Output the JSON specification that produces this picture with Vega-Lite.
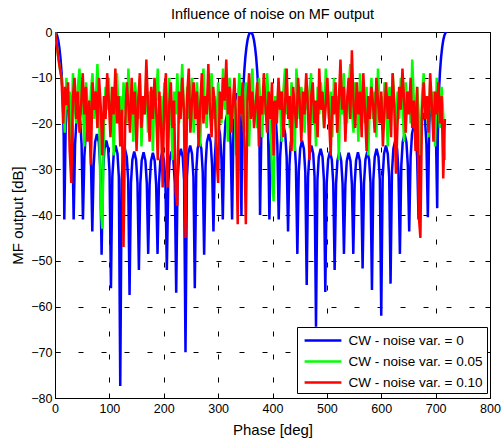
{
"$schema": "https://vega.github.io/schema/vega-lite/v6.json",
"width": 435, "height": 366,
"autosize": {"type": "none"},
"padding": {"left": 55, "top": 32, "right": 11, "bottom": 47},
"background": "white",
"config": {"view": {"stroke": "black", "strokeWidth": 1}, "font": "Liberation Sans"},
"title": {"text": "Influence of noise on MF output", "font": "Liberation Sans", "fontSize": 14.5, "fontWeight": "normal", "color": "black", "anchor": "middle", "offset": 4},
"datasets": {
"blue": [
{"p":0,"v":0},{"p":2,"v":-0.2},{"p":4,"v":-0.8},{"p":6,"v":-1.8},{"p":8,"v":-3.4},{"p":10,"v":-5.6},{"p":12,"v":-8.7},{"p":14,"v":-13.4},{"p":15,"v":-17.1},{"p":16,"v":-23},{"p":17.1,"v":-41},
{"p":19.7,"v":-20.3},{"p":22.3,"v":-15.2},{"p":25.7,"v":-13.4},{"p":29.1,"v":-15.2},{"p":31.7,"v":-20.3},{"p":34.3,"v":-41},
{"p":36.9,"v":-24.6},{"p":39.4,"v":-19.5},{"p":42.9,"v":-17.7},{"p":46.3,"v":-19.5},{"p":48.9,"v":-24.6},{"p":51.4,"v":-41},
{"p":54.0,"v":-27.3},{"p":56.6,"v":-22.2},{"p":60.0,"v":-20.4},{"p":63.4,"v":-22.2},{"p":66.0,"v":-27.3},{"p":68.6,"v":-43.6},
{"p":71.1,"v":-29.2},{"p":73.7,"v":-24.1},{"p":77.1,"v":-22.3},{"p":80.6,"v":-24.1},{"p":83.1,"v":-29.2},{"p":85.7,"v":-48.7},
{"p":88.3,"v":-30.6},{"p":90.9,"v":-25.5},{"p":94.3,"v":-23.7},{"p":97.7,"v":-25.5},{"p":100.3,"v":-30.6},{"p":102.9,"v":-56},
{"p":105.4,"v":-31.7},{"p":108.0,"v":-26.6},{"p":111.4,"v":-24.8},{"p":114.9,"v":-26.6},{"p":117.4,"v":-31.7},{"p":120,"v":-77.4},
{"p":122.6,"v":-32.4},{"p":125.1,"v":-27.3},{"p":128.6,"v":-25.5},{"p":132.0,"v":-27.3},{"p":134.6,"v":-32.4},{"p":137.1,"v":-57.5},
{"p":139.7,"v":-33.0},{"p":142.3,"v":-27.9},{"p":145.7,"v":-26.1},{"p":149.1,"v":-27.9},{"p":151.7,"v":-33.0},{"p":154.3,"v":-52},
{"p":156.9,"v":-33.2},{"p":159.4,"v":-28.1},{"p":162.9,"v":-26.3},{"p":166.3,"v":-28.1},{"p":168.9,"v":-33.2},{"p":171.4,"v":-48.5},
{"p":174.0,"v":-33.3},{"p":176.6,"v":-28.2},{"p":180.0,"v":-26.4},{"p":183.4,"v":-28.2},{"p":186.0,"v":-33.3},{"p":188.6,"v":-48.5},
{"p":191.1,"v":-33.2},{"p":193.7,"v":-28.1},{"p":197.1,"v":-26.3},{"p":200.6,"v":-28.1},{"p":203.1,"v":-33.2},{"p":205.7,"v":-52},
{"p":208.3,"v":-33.0},{"p":210.9,"v":-27.9},{"p":214.3,"v":-26.1},{"p":217.7,"v":-27.9},{"p":220.3,"v":-33.0},{"p":222.9,"v":-57},
{"p":225.4,"v":-32.4},{"p":228.0,"v":-27.3},{"p":231.4,"v":-25.5},{"p":234.9,"v":-27.3},{"p":237.4,"v":-32.4},{"p":240,"v":-70},
{"p":242.6,"v":-31.7},{"p":245.1,"v":-26.6},{"p":248.6,"v":-24.8},{"p":252.0,"v":-26.6},{"p":254.6,"v":-31.7},{"p":257.1,"v":-56},
{"p":259.7,"v":-30.6},{"p":262.3,"v":-25.5},{"p":265.7,"v":-23.7},{"p":269.1,"v":-25.5},{"p":271.7,"v":-30.6},{"p":274.3,"v":-48.7},
{"p":276.9,"v":-29.2},{"p":279.4,"v":-24.1},{"p":282.9,"v":-22.3},{"p":286.3,"v":-24.1},{"p":288.9,"v":-29.2},{"p":291.4,"v":-43.6},
{"p":294.0,"v":-27.3},{"p":296.6,"v":-22.2},{"p":300.0,"v":-20.4},{"p":303.4,"v":-22.2},{"p":306.0,"v":-27.3},{"p":308.6,"v":-41},
{"p":311.1,"v":-24.6},{"p":313.7,"v":-19.5},{"p":317.1,"v":-17.7},{"p":320.6,"v":-19.5},{"p":323.1,"v":-24.6},{"p":325.7,"v":-41},
{"p":328.3,"v":-20.3},{"p":330.9,"v":-15.2},{"p":334.3,"v":-13.4},{"p":337.7,"v":-15.2},{"p":340.3,"v":-20.3},{"p":342.9,"v":-40},
{"p":344,"v":-23},{"p":345,"v":-17.1},{"p":346,"v":-13.4},{"p":348,"v":-8.7},{"p":350,"v":-5.6},{"p":352,"v":-3.4},{"p":354,"v":-1.8},{"p":356,"v":-0.8},{"p":358,"v":-0.2},{"p":360,"v":0},
{"p":362,"v":-0.2},{"p":364,"v":-0.8},{"p":366,"v":-1.8},{"p":368,"v":-3.4},{"p":370,"v":-5.6},{"p":372,"v":-8.7},{"p":374,"v":-13.4},{"p":375,"v":-17.1},{"p":376,"v":-23},{"p":377.1,"v":-40},
{"p":379.7,"v":-20.3},{"p":382.3,"v":-15.2},{"p":385.7,"v":-13.4},{"p":389.1,"v":-15.2},{"p":391.7,"v":-20.3},{"p":394.3,"v":-41},
{"p":396.9,"v":-24.6},{"p":399.4,"v":-19.5},{"p":402.9,"v":-17.7},{"p":406.3,"v":-19.5},{"p":408.9,"v":-24.6},{"p":411.4,"v":-41},
{"p":414.0,"v":-27.3},{"p":416.6,"v":-22.2},{"p":420.0,"v":-20.4},{"p":423.4,"v":-22.2},{"p":426.0,"v":-27.3},{"p":428.6,"v":-43.6},
{"p":431.1,"v":-29.2},{"p":433.7,"v":-24.1},{"p":437.1,"v":-22.3},{"p":440.6,"v":-24.1},{"p":443.1,"v":-29.2},{"p":445.7,"v":-48.5},
{"p":448.3,"v":-30.6},{"p":450.9,"v":-25.5},{"p":454.3,"v":-23.7},{"p":457.7,"v":-25.5},{"p":460.3,"v":-30.6},{"p":462.9,"v":-55.3},
{"p":465.4,"v":-31.7},{"p":468.0,"v":-26.6},{"p":471.4,"v":-24.8},{"p":474.9,"v":-26.6},{"p":477.4,"v":-31.7},{"p":480,"v":-64.4},
{"p":482.6,"v":-32.4},{"p":485.1,"v":-27.3},{"p":488.6,"v":-25.5},{"p":492.0,"v":-27.3},{"p":494.6,"v":-32.4},{"p":497.1,"v":-56.8},
{"p":499.7,"v":-33.0},{"p":502.3,"v":-27.9},{"p":505.7,"v":-26.1},{"p":509.1,"v":-27.9},{"p":511.7,"v":-33.0},{"p":514.3,"v":-52},
{"p":516.9,"v":-33.2},{"p":519.4,"v":-28.1},{"p":522.9,"v":-26.3},{"p":526.3,"v":-28.1},{"p":528.9,"v":-33.2},{"p":531.4,"v":-48.5},
{"p":534.0,"v":-33.3},{"p":536.6,"v":-28.2},{"p":540.0,"v":-26.4},{"p":543.4,"v":-28.2},{"p":546.0,"v":-33.3},{"p":548.6,"v":-48.5},
{"p":551.1,"v":-33.2},{"p":553.7,"v":-28.1},{"p":557.1,"v":-26.3},{"p":560.6,"v":-28.1},{"p":563.1,"v":-33.2},{"p":565.7,"v":-51.7},
{"p":568.3,"v":-33.0},{"p":570.9,"v":-27.9},{"p":574.3,"v":-26.1},{"p":577.7,"v":-27.9},{"p":580.3,"v":-33.0},{"p":582.9,"v":-56.4},
{"p":585.4,"v":-32.4},{"p":588.0,"v":-27.3},{"p":591.4,"v":-25.5},{"p":594.9,"v":-27.3},{"p":597.4,"v":-32.4},{"p":600,"v":-62},
{"p":602.6,"v":-31.7},{"p":605.1,"v":-26.6},{"p":608.6,"v":-24.8},{"p":612.0,"v":-26.6},{"p":614.6,"v":-31.7},{"p":617.1,"v":-55},
{"p":619.7,"v":-30.6},{"p":622.3,"v":-25.5},{"p":625.7,"v":-23.7},{"p":629.1,"v":-25.5},{"p":631.7,"v":-30.6},{"p":634.3,"v":-48.5},
{"p":636.9,"v":-29.2},{"p":639.4,"v":-24.1},{"p":642.9,"v":-22.3},{"p":646.3,"v":-24.1},{"p":648.9,"v":-29.2},{"p":651.4,"v":-43.6},
{"p":654.0,"v":-27.3},{"p":656.6,"v":-22.2},{"p":660.0,"v":-20.4},{"p":663.4,"v":-22.2},{"p":666.0,"v":-27.3},{"p":668.6,"v":-41},
{"p":671.1,"v":-24.6},{"p":673.7,"v":-19.5},{"p":677.1,"v":-17.7},{"p":680.6,"v":-19.5},{"p":683.1,"v":-24.6},{"p":685.7,"v":-40.5},
{"p":688.3,"v":-20.3},{"p":690.9,"v":-15.2},{"p":694.3,"v":-13.4},{"p":697.7,"v":-15.2},{"p":700.3,"v":-20.3},{"p":702.9,"v":-38.5},
{"p":704,"v":-23},{"p":705,"v":-17.1},{"p":706,"v":-13.4},{"p":708,"v":-8.7},{"p":710,"v":-5.6},{"p":712,"v":-3.4},{"p":714,"v":-1.8},{"p":716,"v":-0.8},{"p":718,"v":-0.2},{"p":720,"v":0}
],
"green": [
{"p":0,"v":0},{"p":3,"v":-2.5},{"p":6,"v":-5.5},{"p":9,"v":-8},{"p":12,"v":-10},
{"p":15,"v":-14},{"p":18,"v":-22},{"p":21,"v":-10},{"p":24,"v":-17},{"p":27,"v":-13},{"p":30,"v":-24},{"p":33,"v":-9},{"p":36,"v":-16},{"p":39,"v":-20},{"p":42,"v":-12},
{"p":45,"v":-8},{"p":48,"v":-18},{"p":51,"v":-14},{"p":54,"v":-25},{"p":57,"v":-11},{"p":60,"v":-16},{"p":63,"v":-21},{"p":66,"v":-13},{"p":69,"v":-9},{"p":72,"v":-19},
{"p":75,"v":-15},{"p":78,"v":-7},{"p":81,"v":-17},{"p":84,"v":-38},{"p":87,"v":-43},{"p":90,"v":-20},{"p":93,"v":-12},{"p":96,"v":-17},{"p":99,"v":-10},{"p":102,"v":-22},
{"p":105,"v":-15},{"p":108,"v":-27},{"p":111,"v":-13},{"p":114,"v":-9},{"p":117,"v":-18},{"p":120,"v":-14},{"p":123,"v":-23},{"p":126,"v":-11},{"p":129,"v":-16},{"p":132,"v":-20},
{"p":135,"v":-8},{"p":138,"v":-17},{"p":141,"v":-13},{"p":144,"v":-24},{"p":147,"v":-11},{"p":150,"v":-15},{"p":153,"v":-19},{"p":156,"v":-10},{"p":159,"v":-25},{"p":162,"v":-14},
{"p":165,"v":-18},{"p":168,"v":-9},{"p":171,"v":-22},{"p":174,"v":-13},{"p":177,"v":-17},{"p":180,"v":-26},{"p":183,"v":-12},{"p":186,"v":-15},{"p":189,"v":-8},{"p":192,"v":-19},
{"p":195,"v":-14},{"p":198,"v":-23},{"p":201,"v":-11},{"p":204,"v":-17},{"p":207,"v":-21},{"p":210,"v":-10},{"p":213,"v":-16},{"p":216,"v":-28},{"p":219,"v":-13},{"p":222,"v":-18},
{"p":225,"v":-9},{"p":228,"v":-20},{"p":231,"v":-15},{"p":234,"v":-7},{"p":237,"v":-17},{"p":240,"v":-24},{"p":243,"v":-12},{"p":246,"v":-19},{"p":249,"v":-14},{"p":252,"v":-10},
{"p":255,"v":-22},{"p":258,"v":-16},{"p":261,"v":-11},{"p":264,"v":-18},{"p":267,"v":-25},{"p":270,"v":-13},{"p":273,"v":-8},{"p":276,"v":-17},{"p":279,"v":-21},{"p":282,"v":-12},
{"p":285,"v":-15},{"p":288,"v":-9},{"p":291,"v":-19},{"p":294,"v":-14},{"p":297,"v":-23},{"p":300,"v":-11},{"p":303,"v":-16},{"p":306,"v":-20},{"p":309,"v":-8},{"p":312,"v":-17},
{"p":315,"v":-13},{"p":318,"v":-24},{"p":321,"v":-10},{"p":324,"v":-15},{"p":327,"v":-19},{"p":330,"v":-12},{"p":333,"v":-27},{"p":336,"v":-16},{"p":339,"v":-9},{"p":342,"v":-18},
{"p":345,"v":-14},{"p":348,"v":-22},{"p":351,"v":-11},{"p":354,"v":-17},{"p":357,"v":-25},{"p":360,"v":-13},{"p":363,"v":-8},{"p":366,"v":-19},{"p":369,"v":-15},{"p":372,"v":-21},
{"p":375,"v":-10},{"p":378,"v":-16},{"p":381,"v":-23},{"p":384,"v":-12},{"p":387,"v":-18},{"p":390,"v":-9},{"p":393,"v":-15},{"p":396,"v":-20},{"p":399,"v":-30},{"p":402,"v":-37},
{"p":405,"v":-14},{"p":408,"v":-19},{"p":411,"v":-11},{"p":414,"v":-16},{"p":417,"v":-24},{"p":420,"v":-13},{"p":423,"v":-8},{"p":426,"v":-18},{"p":429,"v":-15},{"p":432,"v":-21},
{"p":435,"v":-11},{"p":438,"v":-17},{"p":441,"v":-26},{"p":444,"v":-8},{"p":447,"v":-14},{"p":450,"v":-19},{"p":453,"v":-12},{"p":456,"v":-16},{"p":459,"v":-22},{"p":462,"v":-10},
{"p":465,"v":-17},{"p":468,"v":-13},{"p":471,"v":-9},{"p":474,"v":-20},{"p":477,"v":-15},{"p":480,"v":-25},{"p":483,"v":-12},{"p":486,"v":-18},{"p":489,"v":-11},{"p":492,"v":-16},
{"p":495,"v":-21},{"p":498,"v":-8},{"p":501,"v":-15},{"p":504,"v":-19},{"p":507,"v":-13},{"p":510,"v":-23},{"p":513,"v":-10},{"p":516,"v":-17},{"p":519,"v":-14},{"p":522,"v":-28},
{"p":525,"v":-12},{"p":528,"v":-18},{"p":531,"v":-9},{"p":534,"v":-16},{"p":537,"v":-20},{"p":540,"v":-13},{"p":543,"v":-7},{"p":546,"v":-17},{"p":549,"v":-22},{"p":552,"v":-11},
{"p":555,"v":-15},{"p":558,"v":-24},{"p":561,"v":-9},{"p":564,"v":-18},{"p":567,"v":-14},{"p":570,"v":-20},{"p":573,"v":-12},{"p":576,"v":-27},{"p":579,"v":-16},{"p":582,"v":-10},
{"p":585,"v":-19},{"p":588,"v":-13},{"p":591,"v":-23},{"p":594,"v":-8},{"p":597,"v":-17},{"p":600,"v":-14},{"p":603,"v":-21},{"p":606,"v":-11},{"p":609,"v":-16},{"p":612,"v":-25},
{"p":615,"v":-12},{"p":618,"v":-18},{"p":621,"v":-9},{"p":624,"v":-15},{"p":627,"v":-22},{"p":630,"v":-13},{"p":633,"v":-19},{"p":636,"v":-10},{"p":639,"v":-16},{"p":642,"v":-24},
{"p":645,"v":-11},{"p":648,"v":-17},{"p":651,"v":-13},{"p":654,"v":-20},{"p":657,"v":-6},{"p":660,"v":-15},{"p":663,"v":-21},{"p":666,"v":-12},{"p":669,"v":-18},{"p":672,"v":-27},
{"p":675,"v":-14},{"p":678,"v":-9},{"p":681,"v":-19},{"p":684,"v":-15},{"p":687,"v":-23},{"p":690,"v":-11},{"p":693,"v":-17},{"p":696,"v":-13},{"p":699,"v":-25},{"p":702,"v":-10},
{"p":705,"v":-16},{"p":708,"v":-21},{"p":711,"v":-12},{"p":714,"v":-18},{"p":717,"v":-28}
],
"red": [
{"p":0,"v":0},{"p":3,"v":-2.5},{"p":6,"v":-5.5},{"p":9,"v":-8},{"p":12,"v":-10},
{"p":15,"v":-20},{"p":18,"v":-12},{"p":21,"v":-16},{"p":24,"v":-11},{"p":27,"v":-26},{"p":30,"v":-33},{"p":33,"v":-14},{"p":36,"v":-10},{"p":39,"v":-19},{"p":42,"v":-13},
{"p":45,"v":-22},{"p":48,"v":-16},{"p":51,"v":-9},{"p":54,"v":-18},{"p":57,"v":-12},{"p":60,"v":-24},{"p":63,"v":-15},{"p":66,"v":-29},{"p":69,"v":-11},{"p":72,"v":-17},
{"p":75,"v":-13},{"p":78,"v":-21},{"p":81,"v":-10},{"p":84,"v":-16},{"p":87,"v":-27},{"p":90,"v":-14},{"p":93,"v":-19},{"p":96,"v":-9},{"p":99,"v":-15},{"p":102,"v":-23},
{"p":105,"v":-12},{"p":108,"v":-18},{"p":111,"v":-8},{"p":114,"v":-20},{"p":117,"v":-14},{"p":120,"v":-25},{"p":123,"v":-17},{"p":126,"v":-47},{"p":129,"v":-20},{"p":132,"v":-11},
{"p":135,"v":-16},{"p":138,"v":-22},{"p":141,"v":-10},{"p":144,"v":-18},{"p":147,"v":-13},{"p":150,"v":-26},{"p":153,"v":-15},{"p":156,"v":-9},{"p":159,"v":-21},{"p":162,"v":-14},
{"p":165,"v":-18},{"p":168,"v":-6},{"p":171,"v":-16},{"p":174,"v":-24},{"p":177,"v":-12},{"p":180,"v":-19},{"p":183,"v":-10},{"p":186,"v":-17},{"p":189,"v":-28},{"p":192,"v":-13},
{"p":195,"v":-20},{"p":198,"v":-34},{"p":201,"v":-14},{"p":204,"v":-9},{"p":207,"v":-34},{"p":210,"v":-16},{"p":213,"v":-11},{"p":216,"v":-21},{"p":219,"v":-15},{"p":222,"v":-35},
{"p":225,"v":-38},{"p":228,"v":-13},{"p":231,"v":-19},{"p":234,"v":-10},{"p":237,"v":-17},{"p":240,"v":-45},{"p":243,"v":-14},{"p":246,"v":-8},{"p":249,"v":-22},{"p":252,"v":-15},
{"p":255,"v":-11},{"p":258,"v":-19},{"p":261,"v":-13},{"p":264,"v":-25},{"p":267,"v":-16},{"p":270,"v":-9},{"p":273,"v":-20},{"p":276,"v":-14},{"p":279,"v":-18},{"p":282,"v":-7},
{"p":285,"v":-17},{"p":288,"v":-23},{"p":291,"v":-12},{"p":294,"v":-16},{"p":297,"v":-27},{"p":300,"v":-33},{"p":303,"v":-13},{"p":306,"v":-19},{"p":309,"v":-10},{"p":312,"v":-15},
{"p":315,"v":-6},{"p":318,"v":-18},{"p":321,"v":-12},{"p":324,"v":-22},{"p":327,"v":-16},{"p":330,"v":-10},{"p":333,"v":-20},{"p":336,"v":-42},{"p":339,"v":-14},{"p":342,"v":-18},
{"p":345,"v":-11},{"p":348,"v":-24},{"p":351,"v":-42},{"p":354,"v":-15},{"p":357,"v":-9},{"p":360,"v":-19},{"p":363,"v":-13},{"p":366,"v":-21},{"p":369,"v":-16},{"p":372,"v":-11},
{"p":375,"v":-25},{"p":378,"v":-14},{"p":381,"v":-18},{"p":384,"v":-9},{"p":387,"v":-16},{"p":390,"v":-22},{"p":393,"v":-13},{"p":396,"v":-19},{"p":399,"v":-11},{"p":402,"v":-27},
{"p":405,"v":-15},{"p":408,"v":-20},{"p":411,"v":-10},{"p":414,"v":-17},{"p":417,"v":-13},{"p":420,"v":-23},{"p":423,"v":-16},{"p":426,"v":-8},{"p":429,"v":-19},{"p":432,"v":-14},
{"p":435,"v":-26},{"p":438,"v":-12},{"p":441,"v":-17},{"p":444,"v":-21},{"p":447,"v":-10},{"p":450,"v":-15},{"p":453,"v":-24},{"p":456,"v":-13},{"p":459,"v":-18},{"p":462,"v":-9},
{"p":465,"v":-16},{"p":468,"v":-28},{"p":471,"v":-14},{"p":474,"v":-11},{"p":477,"v":-20},{"p":480,"v":-15},{"p":483,"v":-23},{"p":486,"v":-8},{"p":489,"v":-17},{"p":492,"v":-13},
{"p":495,"v":-21},{"p":498,"v":-16},{"p":501,"v":-10},{"p":504,"v":-19},{"p":507,"v":-27},{"p":510,"v":-14},{"p":513,"v":-18},{"p":516,"v":-11},{"p":519,"v":-22},{"p":522,"v":-15},
{"p":525,"v":-6},{"p":528,"v":-17},{"p":531,"v":-12},{"p":534,"v":-24},{"p":537,"v":-15},{"p":540,"v":-10},{"p":543,"v":-19},{"p":546,"v":-4},{"p":549,"v":-16},{"p":552,"v":-21},
{"p":555,"v":-11},{"p":558,"v":-18},{"p":561,"v":-13},{"p":564,"v":-23},{"p":567,"v":-9},{"p":570,"v":-17},{"p":573,"v":-26},{"p":576,"v":-14},{"p":579,"v":-19},{"p":582,"v":-12},
{"p":585,"v":-16},{"p":588,"v":-22},{"p":591,"v":-10},{"p":594,"v":-15},{"p":597,"v":-20},{"p":600,"v":-13},{"p":603,"v":-25},{"p":606,"v":-17},{"p":609,"v":-11},{"p":612,"v":-19},
{"p":615,"v":-14},{"p":618,"v":-23},{"p":621,"v":-9},{"p":624,"v":-16},{"p":627,"v":-31},{"p":630,"v":-20},{"p":633,"v":-12},{"p":636,"v":-17},{"p":639,"v":-8},{"p":642,"v":-15},
{"p":645,"v":-22},{"p":648,"v":-13},{"p":651,"v":-18},{"p":654,"v":-10},{"p":657,"v":-21},{"p":660,"v":-15},{"p":663,"v":-26},{"p":666,"v":-12},{"p":669,"v":-40},{"p":672,"v":-45},
{"p":675,"v":-17},{"p":678,"v":-11},{"p":681,"v":-19},{"p":684,"v":-14},{"p":687,"v":-22},{"p":690,"v":-9},{"p":693,"v":-16},{"p":696,"v":-24},{"p":699,"v":-13},{"p":702,"v":-18},
{"p":705,"v":-11},{"p":708,"v":-20},{"p":711,"v":-14},{"p":714,"v":-32},{"p":717,"v":-19}
]
},
"layer": [
{
"data": {"name": "blue"},
"mark": {"type": "line", "strokeWidth": 2.5, "clip": true},
"encoding": {
"x": {"field": "p", "type": "quantitative", "scale": {"domain": [0, 800], "nice": false, "zero": false},
"axis": {"orient": "bottom", "values": [0,100,200,300,400,500,600,700,800], "grid": true, "gridColor": "black", "gridDash": [5, 18], "gridWidth": 1, "gridOpacity": 1, "tickSize": -5, "tickColor": "black", "domain": false, "labelPadding": 9, "labelFont": "Liberation Sans", "labelFontSize": 12.5, "labelColor": "black", "labelFlush": false, "labelOverlap": false, "title": "Phase [deg]", "titleFont": "Liberation Sans", "titleFontSize": 15, "titleFontWeight": "normal", "titleColor": "black", "titlePadding": 8}},
"y": {"field": "v", "type": "quantitative", "scale": {"domain": [-80, 0], "nice": false, "zero": false},
"axis": {"orient": "left", "values": [-80,-70,-60,-50,-40,-30,-20,-10,0], "grid": true, "gridColor": "black", "gridDash": [5, 18], "gridWidth": 1, "gridOpacity": 1, "tickSize": -5, "tickColor": "black", "domain": false, "labelPadding": 8, "labelFont": "Liberation Sans", "labelFontSize": 12.5, "labelColor": "black", "labelFlush": false, "labelOverlap": false, "title": "MF output [dB]", "titleFont": "Liberation Sans", "titleFontSize": 15, "titleFontWeight": "normal", "titleColor": "black", "titlePadding": 5}},
"color": {"datum": "CW - noise var. = 0", "type": "nominal",
"scale": {"domain": ["CW - noise var. = 0", "CW - noise var. = 0.05", "CW - noise var. = 0.10"], "range": ["#0000ff", "#00ff00", "#ff0000"]},
"legend": {"orient": "none", "legendX": 242, "legendY": 295, "title": null, "padding": 4, "rowPadding": 5, "strokeColor": "black", "fillColor": "white", "cornerRadius": 0, "symbolType": "M-2.3,0H2.3", "symbolSize": 256, "symbolStrokeWidth": 2.5, "symbolOffset": 12.5, "labelOffset": 16, "labelFont": "Liberation Sans", "labelFontSize": 13.5, "labelColor": "black", "labelLimit": 300}}
}
},
{
"data": {"name": "green"},
"mark": {"type": "line", "strokeWidth": 2.5, "clip": true},
"encoding": {
"x": {"field": "p", "type": "quantitative", "axis": null},
"y": {"field": "v", "type": "quantitative", "axis": null},
"color": {"datum": "CW - noise var. = 0.05", "type": "nominal"}
}
},
{
"data": {"name": "red"},
"mark": {"type": "line", "strokeWidth": 2.5, "clip": true},
"encoding": {
"x": {"field": "p", "type": "quantitative", "axis": null},
"y": {"field": "v", "type": "quantitative", "axis": null},
"color": {"datum": "CW - noise var. = 0.10", "type": "nominal"}
}
},
{
"data": {"name": "blue"},
"mark": {"type": "line", "strokeOpacity": 0},
"encoding": {
"x": {"field": "p", "type": "quantitative", "axis": {"orient": "top", "values": [0,100,200,300,400,500,600,700,800], "grid": false, "labels": false, "tickSize": -5, "tickColor": "black", "domain": false, "title": null}},
"y": {"field": "v", "type": "quantitative", "axis": {"orient": "right", "values": [-80,-70,-60,-50,-40,-30,-20,-10,0], "grid": false, "labels": false, "tickSize": -5, "tickColor": "black", "domain": false, "title": null}}
}
}
],
"resolve": {"axis": {"x": "independent", "y": "independent"}}
}
